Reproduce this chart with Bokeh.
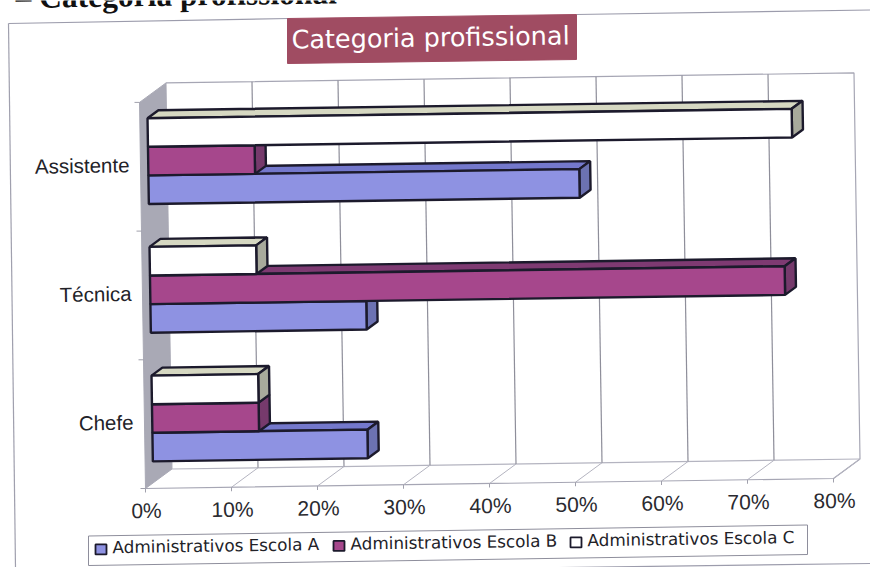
from bokeh.plotting import figure
from bokeh.models import Range1d
from bokeh.core.properties import value
from bokeh.embed import file_html
from bokeh.resources import INLINE

categories = ["Chefe", "Técnica", "Assistente"]
series_names = ["Administrativos Escola A", "Administrativos Escola B", "Administrativos Escola C"]
escola_a = [25.0, 25.1, 50.1]
escola_b = [12.4, 73.8, 12.4]
escola_c = [12.4, 12.4, 74.9]
x_ticks = [0, 10, 20, 30, 40, 50, 60, 70, 80]
heading = "– Categoria profissional"
chart_title = "Categoria profissional"

FRONT = ["#8E92E2", "#A6478C", "#FFFFFF"]
TOP = ["#7478CC", "#7E3A72", "#D6D8C2"]
SIDE = ["#6C72B2", "#763A6C", "#A8AA9C"]
EDGE = "#1C1A2C"
TILT = 0.0146


def proj(u, v, d):
    """value %, category position, depth -> page pixel"""
    return 145 + 8.6 * u - 2.0 * v + 26.5 * d, 488 - 0.125 * u - 128.7 * v - 19.5 * d


def rot(x0, y0, x):
    return y0 - TILT * (x - x0)


p = figure(width=870, height=567, x_range=Range1d(0, 870), y_range=Range1d(567, 0),
           toolbar_location=None, output_backend="svg", min_border=0,
           background_fill_color="white", border_fill_color="white",
           styles={"position": "absolute", "left": "0px", "top": "0px"})
p.xaxis.visible = False
p.yaxis.visible = False
p.grid.visible = False
p.outline_line_color = None


def poly(pts, fill, line=None, w=1.0):
    p.patch([a[0] for a in pts], [a[1] for a in pts], fill_color=fill,
            line_color=line if line else fill, line_width=w)


def seg(pts, color, w=1.0):
    p.line([a[0] for a in pts], [a[1] for a in pts], line_color=color, line_width=w)


def txt(x, y, s, size, color="#1E1E24", align="left", font="Liberation Sans", style="normal"):
    p.text([x], [y], text=[s], text_font=value(font), text_font_size=size, text_color=color,
           text_align=align, text_baseline="middle", angle=TILT, text_font_style=style)


# outer frame
seg([(8, 23), (15, 567)], "#A0A0AE", 1.2)
seg([(8, 23), (288, 18)], "#9C9CAC", 1.2)
seg([(576, 14), (870, 9.5)], "#9C9CAC", 1.2)
seg([(490, 568), (870, 563)], "#9C9CAC", 1.2)

# heading cut by the page edge, as in the scan
txt(15, -3, heading, "31.5px", "#111111", font="Liberation Serif", style="bold")

# title box
poly([(287, 18), (576, 14), (576, 59), (287, 63)], "#A04C62")
txt(291, 39, chart_title, "25.5px", "white", font="DejaVu Sans")

# walls and floor
top_v = len(categories)
poly([proj(0, 0, 0), proj(0, 0, 1), proj(0, top_v, 1), proj(0, top_v, 0)], "#A9A9B5")
wall = "#A6A6B4"
seg([proj(0, top_v, 1), proj(80, top_v, 1), proj(80, 0, 1), proj(80, 0, 0), proj(0, 0, 0)], wall, 1.2)
seg([proj(0, 0, 1), proj(80, 0, 1)], "#B4B4C0", 1.2)
for t in x_ticks[1:-1]:
    seg([proj(t, top_v, 1), proj(t, 0, 1)], "#8E8E9A", 1.2)
for t in x_ticks[1:]:
    seg([proj(t, 0, 0), proj(t, 0, 1)], "#B4B4C0", 1.0)
for t in x_ticks:
    x, y = proj(t, 0, 0)
    seg([(x, y), (x, y + 4)], "#A0A0AC", 1.0)
    txt(x + 1, y + 22, f"{t}%", "21px", "#2A2A30", align="center")
for v in range(top_v + 1):
    x, y = proj(0, v, 0)
    seg([(x - 5, y), (x, y)], "#A0A0AC", 1.0)

# category labels
for i, c in enumerate(categories):
    x, y = proj(0, i + 0.5, 0)
    txt(x - 11, y - 2, c, "20.5px", "#222228", align="right")

# bars
BAR = 2 / 9
D0, D1 = 0.29, 0.70
for i in range(len(categories)):
    base = i + 0.5 - 1.5 * BAR
    for s, vals in enumerate([escola_a, escola_b, escola_c]):
        u = vals[i]
        v0, v1 = base + s * BAR, base + (s + 1) * BAR
        poly([proj(0, v1, D0), proj(0, v1, D1), proj(u, v1, D1), proj(u, v1, D0)], TOP[s], EDGE, 2.4)
        poly([proj(u, v0, D0), proj(u, v0, D1), proj(u, v1, D1), proj(u, v1, D0)], SIDE[s], EDGE, 2.4)
        poly([proj(0, v0, D0), proj(u, v0, D0), proj(u, v1, D0), proj(0, v1, D0)], FRONT[s], EDGE, 2.4)

# legend
poly([(88, 535.5), (807, 524.5), (807, 554), (88, 565)], "white", "#8E8E9C", 1)
swatch_x = [95, 333, 570]
text_x = [112, 350, 587]
for s, name in enumerate(series_names):
    x = swatch_x[s]
    y = rot(88, 549, x)
    poly([(x, y - 5), (x + 11, y - 5), (x + 11, y + 5), (x, y + 5)], FRONT[s], EDGE, 1.8)
    txt(text_x[s], rot(88, 547, text_x[s]), name, "16.8px", "#222228", font="DejaVu Sans")

open("out.html", "w").write(file_html(p, INLINE))
